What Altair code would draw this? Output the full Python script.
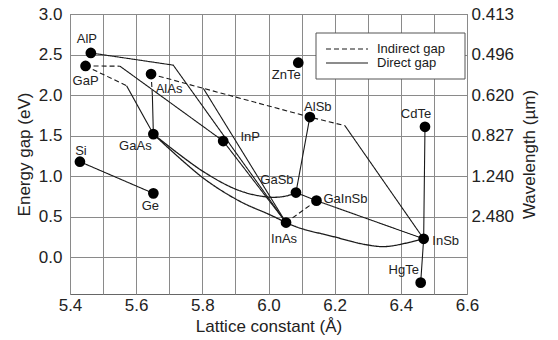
import altair as alt
import pandas as pd

# Binary semiconductors: lattice constant (Å) and band gap (eV)
compounds = ["AlP", "GaP", "AlAs", "GaAs", "InP", "Si", "Ge", "ZnTe",
             "AlSb", "CdTe", "GaSb", "GaInSb", "InAs", "InSb", "HgTe"]
lattice = [5.463, 5.447, 5.645, 5.652, 5.863, 5.430, 5.652, 6.090,
           6.125, 6.473, 6.083, 6.145, 6.053, 6.469, 6.460]
energy_gap = [2.52, 2.36, 2.26, 1.52, 1.435, 1.18, 0.79, 2.40,
              1.73, 1.61, 0.80, 0.70, 0.43, 0.23, -0.31]

# Alloy tie lines: (gap type, drawn shape, points); names refer to compounds,
# tuples are bends / bowing points as (lattice, gap)
alloy_paths = [
    ("Direct gap", "straight", ["Si", "Ge"]),
    ("Direct gap", "straight", ["AlP", (5.712, 2.37), "InAs"]),
    ("Indirect gap", "straight", ["GaP", (5.551, 2.357)]),
    ("Direct gap", "straight", [(5.551, 2.357), "InP"]),
    ("Indirect gap", "straight", ["GaP", (5.571, 2.116)]),
    ("Direct gap", "straight", [(5.571, 2.116), "GaAs"]),
    ("Indirect gap", "straight", ["AlAs", (5.649, 2.0)]),
    ("Direct gap", "straight", [(5.649, 2.0), "GaAs"]),
    ("Indirect gap", "straight", ["AlAs", (5.803, 2.084), "AlSb", (6.231, 1.624)]),
    ("Direct gap", "straight", [(5.803, 2.084), "InAs"]),
    ("Direct gap", "straight", [(6.231, 1.624), "InSb"]),
    ("Direct gap", "straight", ["AlSb", "GaSb"]),
    ("Direct gap", "straight", ["InP", "InAs"]),
    ("Direct gap", "curved", ["GaAs", (5.803, 1.058), (5.914, 0.821), (6.005, 0.743),
                              (6.055, 0.759), "GaSb"]),
    ("Direct gap", "curved", ["GaAs", (5.803, 0.978), (5.914, 0.691), (6.005, 0.525), "InAs"]),
    ("Direct gap", "curved", ["InAs", (6.095, 0.362), (6.195, 0.258), (6.296, 0.157),
                              (6.357, 0.135), "InSb"]),
    ("Direct gap", "straight", ["GaSb", "GaInSb", "InSb"]),
    ("Indirect gap", "straight", ["InAs", "GaInSb"]),
    ("Direct gap", "straight", ["CdTe", "InSb", "HgTe"]),
]

# Axis ticks and labels
x_ticks = [5.4, 5.5, 5.6, 5.7, 5.8, 5.9, 6.0, 6.1, 6.2, 6.3, 6.4, 6.5, 6.6]
x_tick_labels = ["5.4", "", "5.6", "", "5.8", "", "6.0", "", "6.2", "", "6.4", "", "6.6"]
y_ticks = [0.0, 0.5, 1.0, 1.5, 2.0, 2.5, 3.0]
y_tick_labels = ["0.0", "0.5", "1.0", "1.5", "2.0", "2.5", "3.0"]
wavelength_ticks = [0.5, 1.0, 1.5, 2.0, 2.5, 3.0]
wavelength_labels = ["2.480", "1.240", "0.827", "0.620", "0.496", "0.413"]

# Label placement around each marker (pixels)
label_offsets = {
    "AlP": (-4, -14), "GaP": (0, 15), "AlAs": (18, 15), "GaAs": (-18, 12),
    "InP": (27, -4), "Si": (1, -11), "Ge": (-3, 13), "ZnTe": (-12, 12),
    "AlSb": (8, -10), "CdTe": (-9, -13), "GaSb": (-19, -13), "GaInSb": (29, -2),
    "InAs": (-2, 16), "InSb": (22, 2), "HgTe": (-17, -13),
}

FONT = "Liberation Sans"
INK = "#1a1a1a"


def label_expr(values, labels):
    expr = "''"
    for v, lab in zip(values, labels):
        expr = f"abs(datum.value - {v}) < 1e-6 ? '{lab}' : ({expr})"
    return expr


pos = dict(zip(compounds, zip(lattice, energy_gap)))
rows = []
for pid, (kind, shape, pts) in enumerate(alloy_paths):
    for k, p in enumerate(pts):
        a, eg = pos[p] if isinstance(p, str) else p
        rows.append({"path": pid, "kind": kind, "shape": shape, "order": k,
                     "a": a, "eg": eg})
lines_df = pd.DataFrame(rows)
points_df = pd.DataFrame({"name": compounds, "a": lattice, "eg": energy_gap})

x_scale = alt.Scale(domain=[5.4, 6.6], nice=False, zero=False)
y_scale = alt.Scale(domain=[-0.45, 3.0], nice=False, zero=False)

x_axis = alt.Axis(
    values=x_ticks, labelExpr=label_expr(x_ticks, x_tick_labels),
    title="Lattice constant (Å)", grid=True, ticks=False, domain=False,
    labelPadding=3, titlePadding=5, labelFlush=False,
)
left_axis = alt.Axis(
    values=y_ticks, labelExpr=label_expr(y_ticks, y_tick_labels),
    title="Energy gap (eV)", grid=True, ticks=False, domain=False,
    labelPadding=8, titlePadding=5, labelFlush=False,
)
right_axis = alt.Axis(
    orient="right", values=wavelength_ticks,
    labelExpr=label_expr(wavelength_ticks, wavelength_labels),
    title="Wavelength (µm)", grid=False, ticks=False, domain=False,
    labelPadding=4, titlePadding=8, titleAngle=270, titleBaseline="top",
    labelFlush=False,
)

dash = alt.StrokeDash(
    "kind:N",
    scale=alt.Scale(domain=["Indirect gap", "Direct gap"], range=[[5, 3], [1, 0]]),
    legend=alt.Legend(
        title=None, orient="none", legendX=246, legendY=19,
        symbolType="stroke", symbolSize=1764, symbolStrokeWidth=1.2,
        symbolStrokeColor=INK, clipHeight=14, rowPadding=0, labelOffset=8,
        padding=9, labelFontSize=13, labelFont=FONT, labelColor=INK,
    ),
)

# White framed panel behind the legend entries
legend_frame = alt.Chart(points_df.head(1)).mark_rect(
    fill="white", stroke="#555", strokeWidth=1
).encode(
    x=alt.value(246), x2=alt.value(395), y=alt.value(19), y2=alt.value(65),
)

straight = alt.Chart(lines_df).transform_filter(
    alt.datum.shape == "straight"
).mark_line(color=INK, strokeWidth=1.1).encode(
    x=alt.X("a:Q", scale=x_scale, axis=x_axis),
    y=alt.Y("eg:Q", scale=y_scale, axis=left_axis),
    detail="path:N", order="order:Q", strokeDash=dash,
)

curved = alt.Chart(lines_df).transform_filter(
    alt.datum.shape == "curved"
).mark_line(color=INK, strokeWidth=1.3, interpolate="catmull-rom").encode(
    x=alt.X("a:Q", scale=x_scale, axis=x_axis),
    y=alt.Y("eg:Q", scale=y_scale, axis=None),
    detail="path:N", order="order:Q", strokeDash=dash,
)

markers = alt.Chart(points_df).mark_circle(size=115, color="black", opacity=1).encode(
    x=alt.X("a:Q", scale=x_scale, axis=x_axis),
    y=alt.Y("eg:Q", scale=y_scale, axis=right_axis),
)

labels = []
for name in compounds:
    dx, dy = label_offsets[name]
    labels.append(
        alt.Chart(points_df).transform_filter(alt.datum.name == name)
        .mark_text(dx=dx, dy=dy, fontSize=13, font=FONT, color="#222",
                   align="center", baseline="middle")
        .encode(
            x=alt.X("a:Q", scale=x_scale, axis=x_axis),
            y=alt.Y("eg:Q", scale=y_scale, axis=None),
            text="name:N",
        )
    )

chart = alt.layer(legend_frame, straight, curved, markers, *labels).resolve_axis(
    y="independent"
).properties(
    width=397, height=280,
    autosize=alt.AutoSizeParams(type="none"),
    padding={"left": 70, "top": 14, "right": 91, "bottom": 46},
).configure_view(
    stroke="#666", strokeWidth=1,
).configure_axis(
    labelFont=FONT, titleFont=FONT, labelFontSize=17, titleFontSize=17,
    labelColor="#222", titleColor="#222", titleFontWeight="normal",
    gridColor="#8a8a8a", gridWidth=1, gridOpacity=1,
)

chart.save("out.html", embed_options={"renderer": "svg", "actions": False})
